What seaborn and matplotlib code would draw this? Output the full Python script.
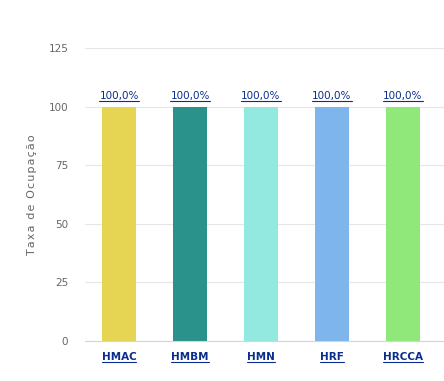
import matplotlib
matplotlib.use("Agg")
import matplotlib.pyplot as plt
import seaborn as sns
import pandas as pd
from matplotlib.lines import Line2D

# chart data
hospitals = ["HMAC", "HMBM", "HMN", "HRF", "HRCCA"]
occupancy = [100.0, 100.0, 100.0, 100.0, 100.0]
bar_colors = ["#E5D552", "#2A918B", "#93E9E0", "#7DB5EC", "#91E87A"]
y_ticks = [0, 25, 50, 75, 100, 125]

df = pd.DataFrame({"Hospital": hospitals, "Taxa": occupancy})

sns.set_style("white")
plt.rcParams["font.family"] = ["DejaVu Sans"]

fig = plt.figure(figsize=(4.44, 3.81), dpi=100)
ax = fig.add_axes([85 / 444, 40 / 381, 359 / 444, 293 / 381])

sns.barplot(data=df, x="Hospital", y="Taxa", hue="Hospital", palette=bar_colors,
            legend=False, width=0.48, saturation=1, linewidth=0, ax=ax)

ax.set_ylim(0, 125)
ax.set_xlim(-0.48, 4.58)
ax.set_yticks(y_ticks)
ax.set_yticklabels([str(t) for t in y_ticks], color="#666666", fontsize=7.5)
ax.yaxis.grid(True, color="#e6e6e6", linewidth=0.8)
ax.set_axisbelow(True)
ax.tick_params(axis="y", length=0, pad=12)
ax.tick_params(axis="x", length=0, pad=8)
for side in ["top", "right", "left"]:
    ax.spines[side].set_visible(False)
ax.spines["bottom"].set_color("#ccd6eb")
ax.spines["bottom"].set_linewidth(0.8)

label_color = "#0B2D8C"
ax.set_xticks(range(len(hospitals)))
ax.set_xticklabels(hospitals, color=label_color, fontsize=7.5, fontweight="bold")
ax.set_xlabel("")
ylab = "\u200a".join("Taxa de Ocupação")
ax.set_ylabel(ylab, color="#666666", fontsize=8, labelpad=8)

value_texts = []
for i, v in enumerate(occupancy):
    t = ax.text(i, v + 2.6, f"{v:.1f}%".replace(".", ","), ha="center", va="bottom",
                color=label_color, fontsize=7.5)
    value_texts.append(t)

# cut-off title fragment at top right
fig.text(0.972, 1.025, "Taxa", color="#333333", fontsize=9, va="top", ha="left")

# underline value labels and category labels
fig.canvas.draw()
renderer = fig.canvas.get_renderer()
for t in value_texts + list(ax.get_xticklabels()):
    bb = t.get_window_extent(renderer)
    y = bb.y0 - 0.3
    fig.add_artist(Line2D([bb.x0 / 444, bb.x1 / 444], [y / 381, y / 381],
                          color=label_color, linewidth=0.8, transform=fig.transFigure))

fig.savefig("out.png", dpi=100)
